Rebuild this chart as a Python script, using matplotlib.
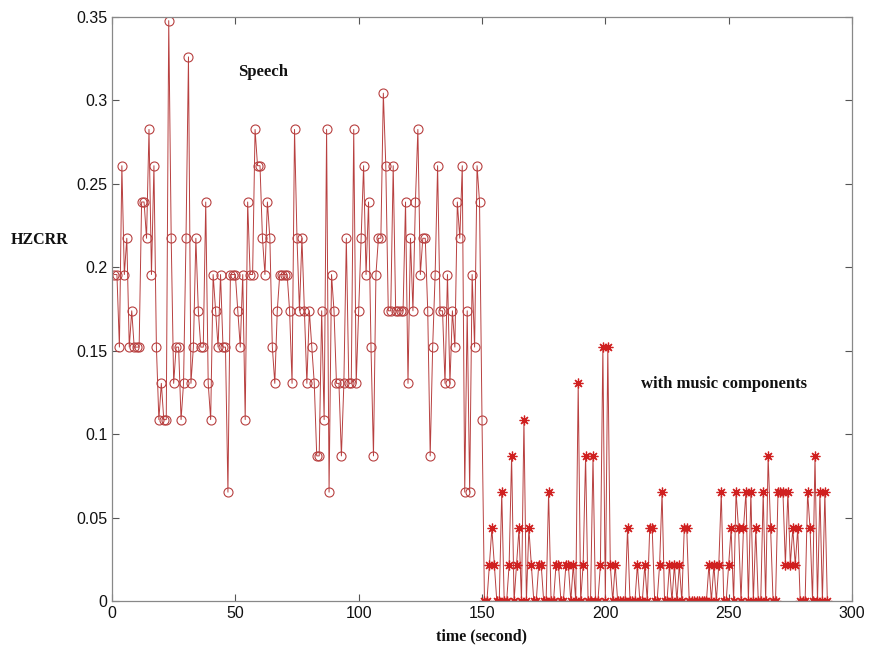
import numpy as np
import matplotlib
matplotlib.use("Agg")
import matplotlib.pyplot as plt

# HZCRR values are quantised in steps of 1/46; stored as integer levels
speech_levels = [9, 9, 7, 12, 9, 10, 7, 8, 7, 7, 7, 11, 11, 10, 13, 9, 12, 7, 5, 6,
                 5, 5, 16, 10, 6, 7, 7, 5, 6, 10, 15, 6, 7, 10, 8, 7, 7, 11, 6, 5,
                 9, 8, 7, 9, 7, 7, 3, 9, 9, 9, 8, 7, 9, 5, 11, 9, 9, 13, 12, 12,
                 10, 9, 11, 10, 7, 6, 8, 9, 9, 9, 9, 8, 6, 13, 10, 8, 10, 8, 6, 8,
                 7, 6, 4, 4, 8, 5, 13, 3, 9, 8, 6, 6, 4, 6, 10, 6, 6, 13, 6, 8,
                 10, 12, 9, 11, 7, 4, 9, 10, 10, 14, 12, 8, 8, 12, 8, 8, 8, 8, 11, 6,
                 10, 8, 11, 13, 9, 10, 10, 8, 4, 7, 9, 12, 8, 8, 6, 9, 6, 8, 7, 11,
                 10, 12, 3, 8, 3, 9, 7, 12, 11, 5]
music_levels = [0, 0, 1, 2, 1, 0, 0, 3, 0, 0, 1, 4, 0, 1, 2, 0, 5, 0, 2, 1,
                0, 0, 1, 1, 0, 0, 3, 0, 0, 1, 1, 0, 0, 1, 1, 0, 1, 0, 6, 0,
                1, 4, 0, 0, 4, 0, 0, 1, 7, 0, 7, 1, 0, 1, 0, 0, 0, 0, 2, 0,
                0, 0, 1, 0, 0, 1, 0, 2, 2, 0, 0, 1, 3, 0, 0, 1, 0, 1, 0, 1,
                0, 2, 2, 0, 0, 0, 0, 0, 0, 0, 0, 1, 0, 1, 0, 1, 3, 0, 0, 1,
                2, 0, 3, 2, 0, 2, 3, 0, 3, 0, 2, 0, 0, 3, 0, 4, 2, 0, 0, 3,
                3, 3, 1, 3, 1, 2, 1, 2, 0, 0, 0, 3, 2, 0, 4, 0, 3, 0, 3, 0]
step = 1.0 / 46.0
speech = np.array(speech_levels) * step
music = np.array(music_levels) * step
t_speech = np.arange(1, len(speech) + 1)
t_music = np.arange(len(speech) + 1, len(speech) + len(music) + 1)

xticks = [0, 50, 100, 150, 200, 250, 300]
yticks = [0, 0.05, 0.1, 0.15, 0.2, 0.25, 0.3, 0.35]
ytick_labels = ["0", "0.05", "0.1", "0.15", "0.2", "0.25", "0.3", "0.35"]

col = "#b84040"
fig = plt.figure(figsize=(8.69, 6.52), dpi=100)
ax = fig.add_axes([112/869, 1-601/652, 740/869, 584/652])

t_all = np.concatenate([t_speech, t_music])
v_all = np.concatenate([speech, music])
ax.plot(t_all, v_all, color=col, lw=0.7)
ax.plot(t_speech, speech, linestyle="none", marker="o", markersize=6.5,
        markerfacecolor="none", markeredgecolor=col, markeredgewidth=0.8)
ax.plot(t_music, music, linestyle="none", marker=(8, 2, 0), markersize=7,
        color="#d02020", markeredgewidth=0.9)

ax.set_xlim(0, 300)
ax.set_ylim(0, 0.35)
ax.set_xticks(xticks)
ax.set_yticks(yticks)
ax.set_yticklabels(ytick_labels)
ax.tick_params(direction="in", top=True, right=True, length=5, width=0.8,
               colors="#555555", labelcolor="#111111", labelsize=11.5)
for lab in ax.get_xticklabels() + ax.get_yticklabels():
    lab.set_family("Liberation Sans")
for s in ax.spines.values():
    s.set_color("#888888")
    s.set_linewidth(0.9)

serif = dict(family="Liberation Serif", weight="bold", color="#111111")
fig.text(40/869, 1-240/652, "HZCRR", ha="center", va="center", fontsize=11.5, **serif)
fig.text(482/869, 1-636/652, "time (second)", ha="center", va="center", fontsize=11.5, **serif)
ax.text((263-112)/2.4667, (601-72)/1668.6, "Speech", ha="center", va="center", fontsize=12, **serif)
ax.text((724-112)/2.4667, (601-384)/1668.6, "with music components", ha="center", va="center", fontsize=12, **serif)

fig.savefig("out.png", dpi=100)
